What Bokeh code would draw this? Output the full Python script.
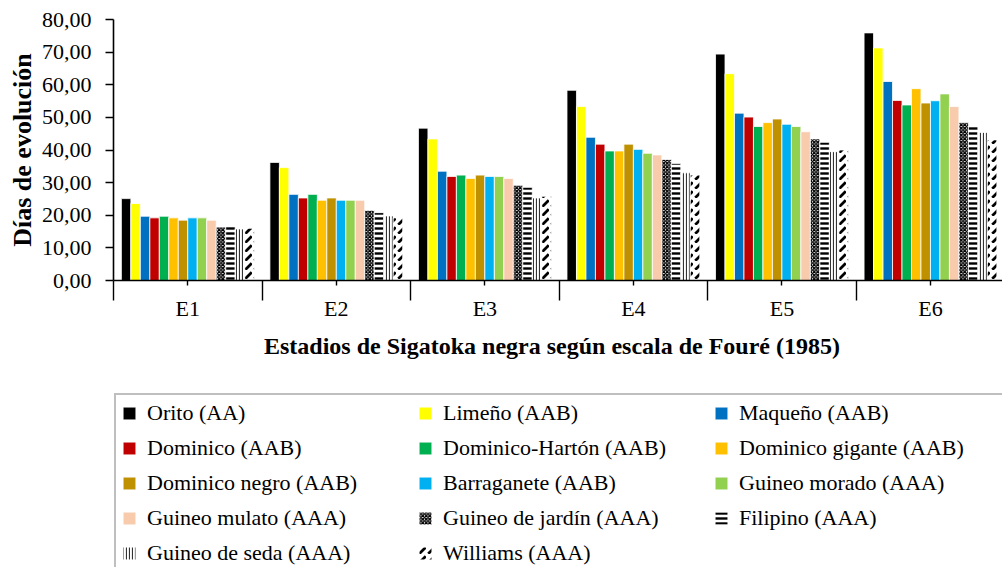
import numpy as np
from bokeh.plotting import figure
from bokeh.layouts import column
from bokeh.models import Range1d, FixedTicker, Legend, LegendItem
from bokeh.embed import file_html
from bokeh.resources import INLINE

# ---------------- data ----------------
categories = ["E1", "E2", "E3", "E4", "E5", "E6"]
y_ticks = [0, 10, 20, 30, 40, 50, 60, 70, 80]
y_tick_labels = ["0,00", "10,00", "20,00", "30,00", "40,00", "50,00", "60,00", "70,00", "80,00"]

series_names = [
    "Orito (AA)", "Limeño (AAB)", "Maqueño (AAB)",
    "Dominico (AAB)", "Dominico-Hartón (AAB)", "Dominico gigante (AAB)",
    "Dominico negro (AAB)", "Barraganete (AAB)", "Guineo morado (AAA)",
    "Guineo mulato (AAA)", "Guineo de jardín (AAA)", "Filipino (AAA)",
    "Guineo de seda (AAA)", "Williams (AAA)",
]

orito            = [25.1, 36.2, 46.7, 58.3, 69.4, 75.9]
limeno           = [23.6, 34.6, 43.4, 53.3, 63.4, 71.3]
maqueno          = [19.7, 26.4, 33.5, 43.9, 51.3, 61.0]
dominico         = [19.2, 25.3, 31.9, 41.8, 50.1, 55.2]
dominico_harton  = [19.7, 26.4, 32.3, 39.7, 47.2, 53.8]
dominico_gigante = [19.2, 24.6, 31.3, 39.7, 48.4, 58.8]
dominico_negro   = [18.5, 25.3, 32.3, 41.8, 49.5, 54.4]
barraganete      = [19.2, 24.6, 31.9, 40.2, 47.9, 55.1]
guineo_morado    = [19.2, 24.6, 31.9, 39.0, 47.2, 57.2]
guineo_mulato    = [18.5, 24.6, 31.3, 38.5, 45.6, 53.3]
guineo_jardin    = [16.4, 21.5, 29.2, 37.1, 43.4, 48.4]
filipino         = [16.8, 20.8, 28.6, 35.9, 42.4, 47.2]
guineo_seda      = [15.8, 19.8, 25.3, 33.0, 39.5, 45.4]
williams         = [16.0, 19.2, 25.8, 32.3, 40.0, 43.1]

series_values = [orito, limeno, maqueno, dominico, dominico_harton, dominico_gigante,
                 dominico_negro, barraganete, guineo_morado, guineo_mulato,
                 guineo_jardin, filipino, guineo_seda, williams]

# ---------------- styles ----------------
styles = [
    dict(fill_color="#000000"),
    dict(fill_color="#FFFF00"),
    dict(fill_color="#0070C0"),
    dict(fill_color="#C00000"),
    dict(fill_color="#00B050"),
    dict(fill_color="#FFC000"),
    dict(fill_color="#BF9000"),
    dict(fill_color="#00B0F0"),
    dict(fill_color="#92D050"),
    dict(fill_color="#F8CBAD"),
    dict(fill_color="#FFFFFF", hatch_pattern="x", hatch_color="#000000", hatch_scale=3.5, hatch_weight=1.4),
    dict(fill_color="#FFFFFF", hatch_pattern="-", hatch_color="#000000", hatch_scale=5, hatch_weight=2.4),
    dict(fill_color="#FFFFFF", hatch_pattern="|", hatch_color="#333333", hatch_scale=3, hatch_weight=1.2),
    dict(fill_color="#FFFFFF", hatch_pattern=",", hatch_color="#000000", hatch_scale=9, hatch_weight=2.8),
]

FONT = "Liberation Serif"
W = 1002
H_MAIN = 392
H_LEG = 175

# ---------------- main chart ----------------
p = figure(width=W, height=H_MAIN,
           x_range=Range1d(0, 5.985), y_range=Range1d(0, 80),
           output_backend="svg", toolbar_location=None,
           min_border_left=113, min_border_right=0,
           min_border_top=19, min_border_bottom=112)
p.outline_line_color = None
p.grid.visible = False
p.background_fill_color = "white"
p.border_fill_color = "white"

n = len(series_names)
group_frac = 0.894
bw = group_frac / n
centers = np.arange(len(categories)) + 0.5
bar_x = [centers + (j - (n - 1) / 2) * bw for j in range(n)]

for xs, vals, st in zip(bar_x, series_values, styles):
    p.vbar(x=xs, top=vals, width=bw, bottom=0,
           line_color="white", line_width=0.8, **st)

# y axis
p.yaxis.ticker = FixedTicker(ticks=y_ticks, minor_ticks=[])
p.yaxis.major_label_overrides = {t: l for t, l in zip(y_ticks, y_tick_labels)}
p.yaxis.major_tick_out = 8
p.yaxis.major_tick_in = 0
p.yaxis.minor_tick_out = 0
p.yaxis.major_label_standoff = 14
p.yaxis.axis_label = "Días de evolución"
p.yaxis.axis_label_standoff = 2
p.yaxis.axis_label_text_font = FONT
p.yaxis.axis_label_text_font_style = "bold"
p.yaxis.axis_label_text_font_size = "26px"

# x axis
p.xaxis.ticker = FixedTicker(ticks=list(centers), minor_ticks=list(range(len(categories) + 1)))
p.xaxis.major_label_overrides = {float(c): lab for c, lab in zip(centers, categories)}
p.xaxis.major_tick_out = 5
p.xaxis.major_tick_in = 0
p.xaxis.minor_tick_out = 20
p.xaxis.minor_tick_in = 0
p.xaxis.major_label_standoff = -5
p.xaxis.axis_label = "Estadios  de  Sigatoka negra según escala de Fouré (1985)"
p.xaxis.axis_label_standoff = 9
p.xaxis.axis_label_text_font = FONT
p.xaxis.axis_label_text_font_style = "bold"
p.xaxis.axis_label_text_font_size = "24px"

for ax in (p.xaxis[0], p.yaxis[0]):
    ax.axis_line_color = "#000000"
    ax.axis_line_width = 1.6
    ax.major_tick_line_color = "#000000"
    ax.major_tick_line_width = 1.4
    ax.minor_tick_line_color = "#000000"
    ax.minor_tick_line_width = 1.4
    ax.major_label_text_font = FONT
    ax.major_label_text_font_size = "22px"
    ax.major_label_text_color = "#000000"
    ax.axis_label_text_color = "#000000"

# ---------------- legend panel ----------------
# same series drawn off-view (x range away from data) so the legend has glyphs to show
lp = figure(width=W, height=H_LEG, x_range=Range1d(-10, -9), y_range=Range1d(0, 80),
            output_backend="svg", toolbar_location=None,
            x_axis_location=None, y_axis_location=None,
            min_border_left=109, min_border_right=0, min_border_top=0, min_border_bottom=0)
lp.outline_line_color = None
lp.grid.visible = False

items = []
for name, xs, vals, st in zip(series_names, bar_x, series_values, styles):
    r = lp.vbar(x=xs, top=vals, width=bw, line_color="white", line_width=0.8, **st)
    items.append(LegendItem(label=name, renderers=[r]))

legend = Legend(items=items, location="top_left", orientation="horizontal", ncols=3,
                border_line_color="#808080", border_line_width=2,
                background_fill_color="white", background_fill_alpha=1,
                label_text_font=FONT, label_text_font_size="22px", label_text_color="#000000",
                glyph_width=16, glyph_height=16, label_standoff=10, label_width=261,
                label_height=25, spacing=9, padding=5, margin=1)
lp.add_layout(legend)

layout = column(p, lp, spacing=0)
open("out.html", "w").write(file_html(layout, INLINE))
